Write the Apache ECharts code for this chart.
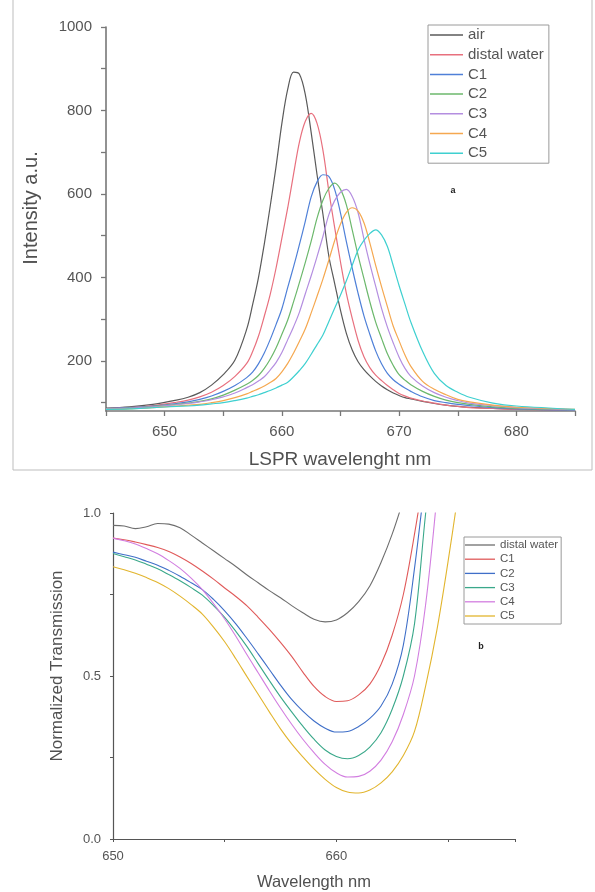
<!DOCTYPE html>
<html>
<head>
<meta charset="utf-8">
<script src="https://cdn.jsdelivr.net/npm/echarts@6/dist/echarts.min.js"></script>
<style>
html,body{margin:0;padding:0;background:#fff;}
.c{position:absolute;left:0;top:0;width:595px;height:892px;}
</style>
</head>
<body>
<div id="top" class="c"></div>
<div id="bot" class="c"></div>
<script>
// ---------- (a) LSPR spectra ----------
const topWavelengths = [645,647,649,651,652,653,654,655,656,657,657.5,658,658.5,659,659.5,660,660.5,661,661.5,662,662.5,663,663.5,664,664.5,665,665.5,666,666.5,667,667.5,668,668.5,669,669.5,670,670.5,671,672,673,674,675,676,678,680,685];
const topNames = ['air','distal water','C1','C2','C3','C4','C5'];
const air         = [87,90,96,106,113,124,142,167,202,276,334,399,480,570,665,769,851,892,887,838,747,646,552,452,386,321,266,226,198,179,164,151,140,131,123,117,112,109,103,98,94,91,89,86,84,82];
const distalWater = [86,88,93,101,106,114,125,141,163,194,222,259,307,359,422,494,567,648,725,774,793,769,705,608,520,437,362,302,249,210,184,166,153,141,131,122,116,111,104,99,94,91,88,86,84,82];
const c1          = [86,88,92,98,102,108,116,127,141,160,173,193,219,251,287,325,376,426,479,535,593,629,646,642,611,554,486,422,362,308,264,224,193,170,155,144,135,127,114,105,100,96,93,88,85,82];
const c2          = [85,87,91,96,99,103,109,118,130,144,153,165,182,204,231,264,298,342,388,436,487,542,585,613,626,611,574,514,453,397,342,293,254,217,189,167,154,143,127,115,106,100,96,90,86,83];
const c3          = [85,87,90,95,98,102,107,114,123,136,143,152,162,178,196,220,251,282,317,361,404,450,498,550,584,604,611,594,555,492,433,379,326,281,243,209,182,163,140,124,113,105,99,93,88,83];
const c4          = [84,85,88,92,94,96,100,105,112,121,127,133,140,148,158,174,194,219,247,277,315,355,396,441,488,528,556,567,559,531,483,429,378,330,283,248,214,187,151,132,119,108,102,94,89,84];
const c5          = [84,85,88,91,92,94,97,100,105,111,115,119,124,129,135,142,149,162,177,194,216,239,262,294,326,358,392,429,466,489,505,514,502,474,428,380,336,293,223,170,141,125,113,99,92,84];
const topSeries = [air, distalWater, c1, c2, c3, c4, c5];
const topColors = ['#5a5a5a','#e8707e','#4f80d8','#6cb86c','#b48ee0','#f5a850','#3fd0d0'];
const topXLabels = [650,660,670,680];
const topYLabels = [200,400,600,800,1000];
const topYTicks  = [100,200,300,400,500,600,700,800,900,1000];

// ---------- (b) Normalized transmission ----------
const botWavelengths = [650,650.5,651,651.5,652,652.5,653,653.5,654,654.5,655,655.5,656,656.5,657,657.5,658,658.5,659,659.5,660,660.5,661,661.5,662,662.5,663,663.5,664,664.5,665,665.5,666];
const botNames = ['distal water','C1','C2','C3','C4','C5'];
const tDistal = [0.962,0.960,0.952,0.958,0.968,0.966,0.955,0.932,0.908,0.884,0.860,0.836,0.810,0.786,0.762,0.740,0.716,0.694,0.674,0.666,0.672,0.694,0.728,0.776,0.848,0.935,1.04,null,null,null,null,null,null];
const tC1 = [0.923,0.918,0.911,0.903,0.894,0.882,0.865,0.845,0.822,0.797,0.770,0.744,0.715,0.680,0.643,0.603,0.560,0.512,0.468,0.437,0.422,0.424,0.442,0.475,0.535,0.625,0.750,0.935,1.15,null,null,null,null];
const tC2 = [0.880,0.872,0.864,0.852,0.840,0.824,0.806,0.786,0.765,0.735,0.700,0.660,0.615,0.568,0.520,0.472,0.428,0.392,0.362,0.340,0.328,0.330,0.345,0.370,0.408,0.475,0.595,0.830,1.12,null,null,null,null];
const tC3 = [0.876,0.866,0.856,0.843,0.829,0.811,0.792,0.771,0.748,0.716,0.680,0.637,0.590,0.538,0.486,0.436,0.390,0.346,0.306,0.273,0.253,0.246,0.256,0.282,0.326,0.398,0.500,0.660,1.00,1.30,null,null,null];
const tC4 = [0.923,0.915,0.905,0.891,0.875,0.854,0.830,0.800,0.765,0.722,0.675,0.622,0.565,0.510,0.455,0.402,0.352,0.306,0.265,0.229,0.203,0.190,0.192,0.208,0.242,0.298,0.382,0.500,0.720,1.05,null,null,null];
const tC5 = [0.835,0.826,0.815,0.802,0.787,0.768,0.745,0.719,0.690,0.650,0.605,0.553,0.498,0.444,0.390,0.338,0.292,0.252,0.215,0.183,0.158,0.144,0.141,0.150,0.172,0.206,0.256,0.330,0.470,0.640,0.850,1.08,null];
const botSeries = [tDistal, tC1, tC2, tC3, tC4, tC5];
const botColors = ['#6e6e6e','#e05a5a','#3f6fc8','#3aa88a','#d27ee0','#e2b52e'];
const botXLabels = [650,660];
const botYLabels = [0,0.5,1];

function pairs(xs, ys){ return xs.map((x,i)=>[x, ys[i]]); }
const FONT = 'Liberation Sans, Arial';

// ---------- top chart ----------
const topChart = echarts.init(document.getElementById('top'), null, {renderer:'canvas'});
topChart.setOption({
  animation:false,
  grid:{left:106, top:27, width:469, height:384},
  legend:{
    orient:'vertical', left:428, top:25,
    padding:[2.5,5,2.5,2],
    borderColor:'#9a9a9a', borderWidth:1,
    icon:'rect', itemWidth:33, itemHeight:1.5, itemGap:4.7,
    textStyle:{fontFamily:FONT, fontSize:15, lineHeight:15, color:'#555'},
    data: topNames
  },
  xAxis:{
    type:'value', min:645, max:685, interval:5,
    axisLine:{lineStyle:{color:'#777', width:1.6}},
    axisTick:{length:5, lineStyle:{color:'#777', width:1.3}},
    axisLabel:{formatter:v=> topXLabels.includes(v) ? String(v) : '', fontFamily:FONT, fontSize:15, color:'#555', margin:13},
    splitLine:{show:false}
  },
  yAxis:{
    type:'value', min:80, max:1000,
    axisLine:{show:true, lineStyle:{color:'#777', width:1.6}},
    axisTick:{show:true, length:5, customValues: topYTicks, lineStyle:{color:'#777', width:1.3}},
    axisLabel:{customValues: topYLabels, formatter:v=>String(v), fontFamily:FONT, fontSize:15, color:'#555', margin:14},
    splitLine:{show:false}
  },
  series: topSeries.map((s,i)=>({
    name: topNames[i], type:'line', data: pairs(topWavelengths, s),
    showSymbol:false, smooth:0.35, color: topColors[i],
    lineStyle:{width:1.2, color: topColors[i]}
  })),
  graphic:[
    {type:'rect', shape:{x:13, y:-2, width:579, height:472}, style:{fill:'none', stroke:'#bdbdbd', lineWidth:1}, silent:true},
    {type:'text', x:31, y:208, rotation:Math.PI/2, style:{text:'Intensity a.u.', fontFamily:FONT, fontSize:20, fill:'#505050', align:'center', verticalAlign:'middle'}},
    {type:'text', x:340, y:460, style:{text:'LSPR wavelenght nm', fontFamily:FONT, fontSize:19, fill:'#505050', align:'center', verticalAlign:'middle'}},
    {type:'text', x:453, y:191, style:{text:'a', fontFamily:FONT, fontSize:9, fontWeight:'bold', fill:'#222', align:'center', verticalAlign:'middle'}}
  ]
});

// ---------- bottom chart ----------
const botChart = echarts.init(document.getElementById('bot'), null, {renderer:'canvas'});
botChart.setOption({
  animation:false,
  grid:{left:113, top:513, width:402, height:326},
  legend:{
    orient:'vertical', left:464, top:537,
    padding:[2,3,2,1],
    borderColor:'#9a9a9a', borderWidth:1,
    icon:'rect', itemWidth:30, itemHeight:1.3, itemGap:2.2,
    textStyle:{fontFamily:FONT, fontSize:11.5, lineHeight:12, color:'#555'},
    data: botNames
  },
  xAxis:{
    type:'value', min:650, max:668, interval:5,
    axisLine:{lineStyle:{color:'#555', width:1.2}},
    axisTick:{length:3, lineStyle:{color:'#555'}},
    axisLabel:{formatter:v=> botXLabels.includes(v) ? String(v) : '', fontFamily:FONT, fontSize:13, color:'#555', margin:11},
    splitLine:{show:false}
  },
  yAxis:{
    type:'value', min:0, max:1, interval:0.25,
    axisLine:{show:true, lineStyle:{color:'#555', width:1.2}},
    axisTick:{show:true, length:3, lineStyle:{color:'#555'}},
    axisLabel:{formatter:v=> botYLabels.includes(v) ? v.toFixed(1) : '', fontFamily:FONT, fontSize:13, color:'#555', margin:12},
    splitLine:{show:false}
  },
  series: botSeries.map((s,i)=>({
    name: botNames[i], type:'line', data: pairs(botWavelengths, s),
    showSymbol:false, smooth:0.35, connectNulls:false, color: botColors[i],
    lineStyle:{width:1.1, color: botColors[i]}, clip:true
  })),
  graphic:[
    {type:'text', x:57, y:666, rotation:Math.PI/2, style:{text:'Normalized Transmission', fontFamily:FONT, fontSize:17, fill:'#505050', align:'center', verticalAlign:'middle'}},
    {type:'text', x:314, y:882, style:{text:'Wavelength nm', fontFamily:FONT, fontSize:16.5, fill:'#505050', align:'center', verticalAlign:'middle'}},
    {type:'text', x:481, y:647, style:{text:'b', fontFamily:FONT, fontSize:9, fontWeight:'bold', fill:'#222', align:'center', verticalAlign:'middle'}}
  ]
});
</script>
</body>
</html>
